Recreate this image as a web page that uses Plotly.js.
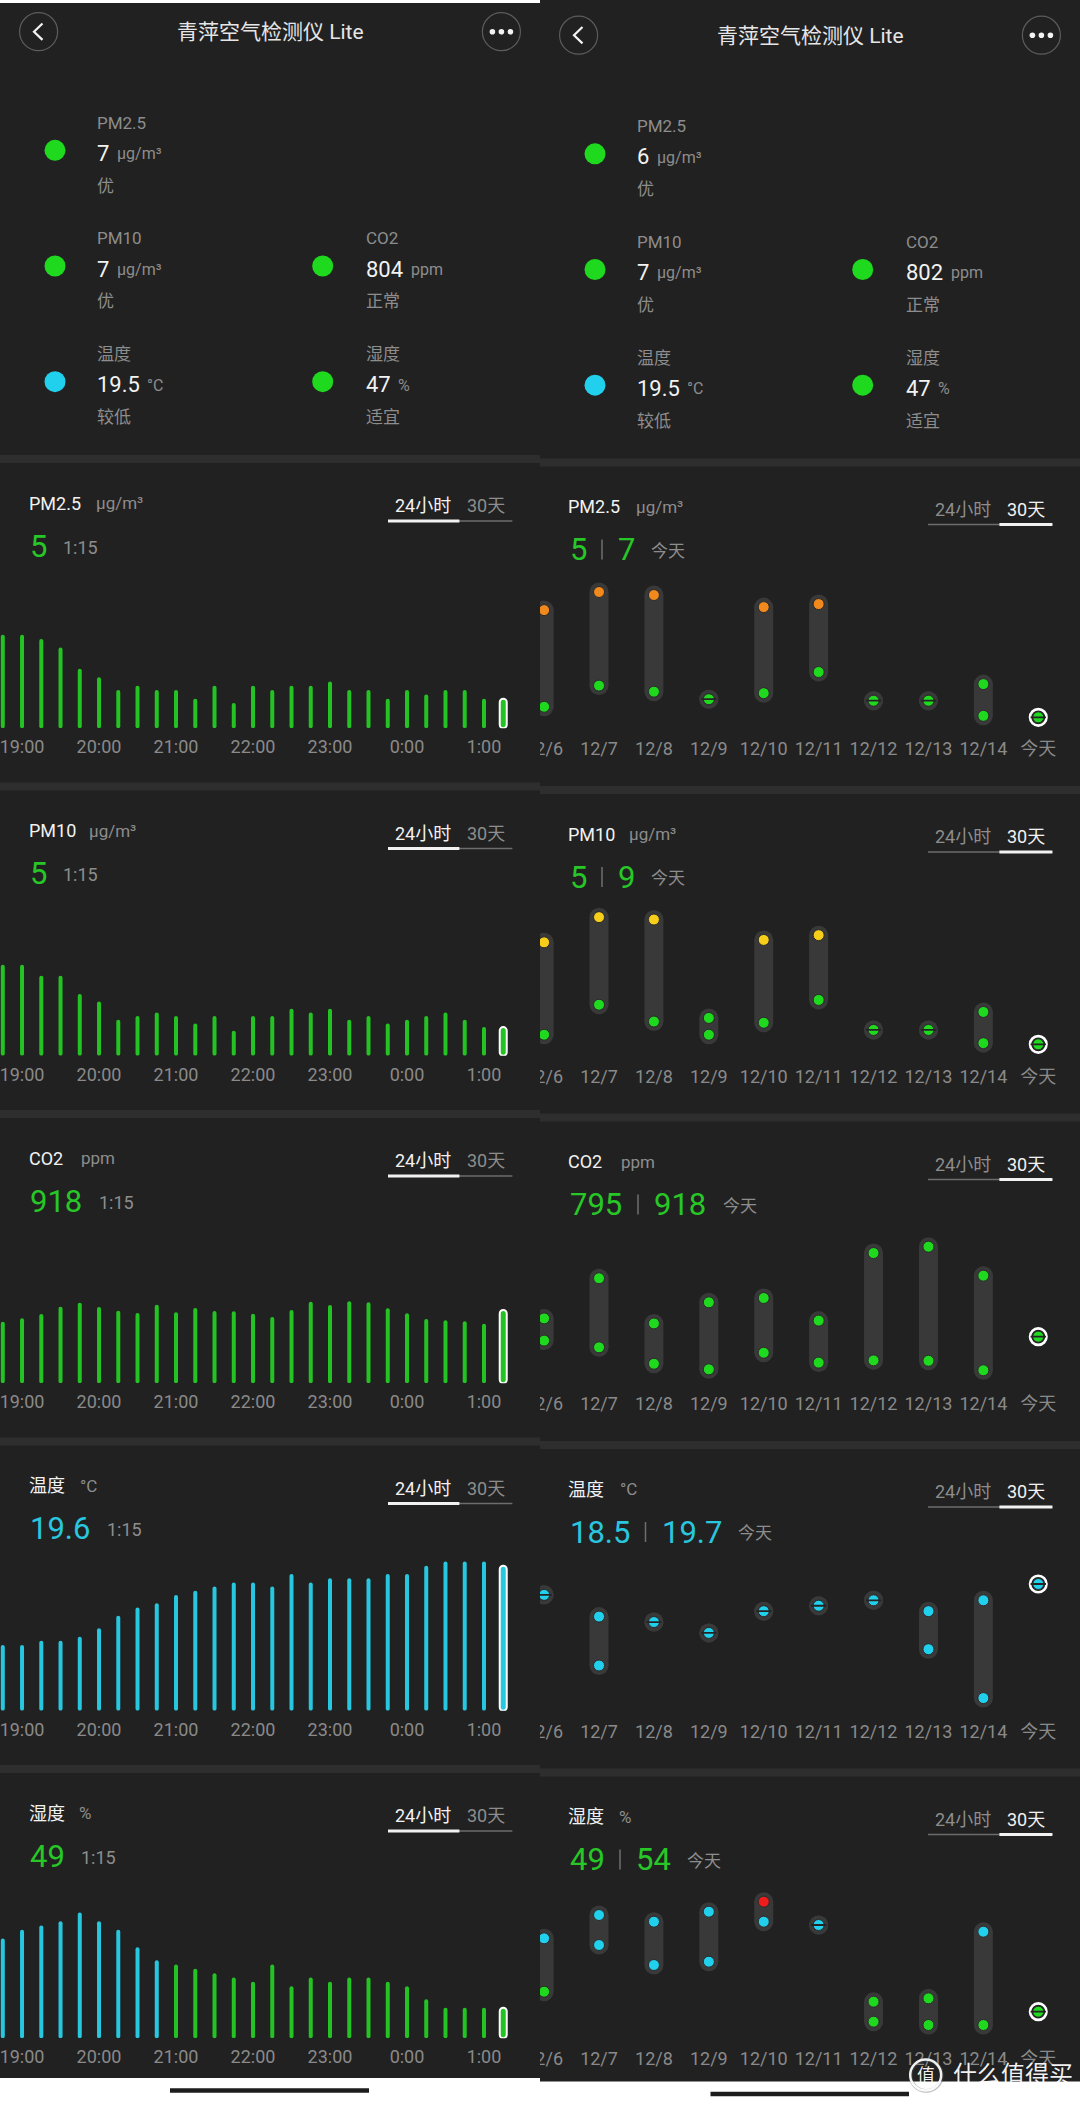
<!DOCTYPE html>
<html><head><meta charset="utf-8">
<script src="https://cdn.plot.ly/plotly-3.0.1.min.js"></script>
<style>html,body{margin:0;padding:0;background:#fff;}#chart{width:1080px;height:2104px;}</style>
</head><body><div id="chart"></div>
<script>
// ================= DATA =================
const appTitle = '青萍空气检测仪 Lite';
const metricNames = ['PM2.5', 'PM10', 'CO2', '温度', '湿度'];
const metricUnits = ['μg/m³', 'μg/m³', 'ppm', '°C', '%'];
const statusLeftValues = ['7', '7', '804', '19.5', '47'];
const statusRightValues = ['6', '7', '802', '19.5', '47'];
const statusLevels = ['优', '优', '正常', '较低', '适宜'];
const currentValues = ['5', '5', '918', '19.6', '49'];
const currentTime = '1:15';
const todayMinText = ['5', '5', '795', '18.5', '49'];
const todayMaxText = ['7', '9', '918', '19.7', '54'];
const tabLabels = ['24小时', '30天'];
const todayLabel = '今天';

// 24 h view (15-minute bars)
const times = ['18:45','19:00','19:15','19:30','19:45','20:00','20:15','20:30','20:45','21:00','21:15','21:30','21:45','22:00','22:15','22:30','22:45','23:00','23:15','23:30','23:45','0:00','0:15','0:30','0:45','1:00','1:15'];
const hourTicks = ['19:00','20:00','21:00','22:00','23:00','0:00','1:00'];
const pm25Hourly = [20,20,19,17,12,10,7,8,7,7,5,8,4,8,7,8,8,9,7,7,5,7,6,7,7,5,5];
const pm10Hourly = [22,22,19,19,14,12,7,8,9,8,6,8,4,8,8,10,9,10,7,8,6,7,8,9,7,5,5];
const co2Hourly = [813,843,882,948,984,945,912,891,966,897,936,909,906,885,855,918,993,963,996,987,933,888,837,825,816,795,918];
const tempHourly = [17.7,17.7,17.8,17.8,17.9,18.1,18.4,18.6,18.7,18.9,19.0,19.1,19.2,19.2,19.1,19.4,19.2,19.3,19.3,19.3,19.4,19.4,19.6,19.7,19.7,19.7,19.6];
const humHourly = [65,67,68,69,71,69,67,63,60,59,58,57,56,55,59,54,56,55,56,56,55,54,51,49,49,49,49];

// 30 day view (daily min / max)
const days = ['12/6','12/7','12/8','12/9','12/10','12/11','12/12','12/13','12/14'];
const pm25DayMin = [12,26,22,17,21,35,16,16,6];
const pm25DayMax = [76,88,86,17,78,80,16,16,27];
const pm10DayMin = [13,38,24,13,23,42,17,17,6];
const pm10DayMax = [90,111,109,27,92,96,17,17,32];
const co2DayMin = [897,861,773,743,832,779,791,789,738];
const co2DayMax = [1016,1231,989,1102,1125,1004,1366,1400,1245];
const tempDayMin = [19.5,18.2,19.0,18.8,19.2,19.3,19.4,18.5,17.6];
const tempDayMax = [19.5,19.1,19.0,18.8,19.2,19.3,19.4,19.2,19.4];
const humDayMin = [55,69,63,64,76,75,46,45,45];
const humDayMax = [71,78,76,79,82,75,52,53,73];
const todayPoint = [5, 5, 918, 19.7, 49];

// ================= STYLE / LAYOUT =================
const FONT = "Roboto, 'Noto Sans CJK SC', 'Noto Sans', sans-serif";
const W = 1080, H = 2104;
const fx = p => p / W, fy = p => 1 - p / H;
const BG = '#212121', BAND = '#2e2e2e', GRAY = '#8d8d8d', WHITE = '#f2f2f2';
const barPal = {g:'#24c324', c:'#27c7df', y:'#f0c419', o:'#ee8a1f', r:'#e8231e'};
const dotPal = {g:'#1fd91f', c:'#21d0ec', y:'#f7cf1b', o:'#f2891d', r:'#f01c1c'};
const txtPal = {g:'#27c727', c:'#29c6df'};
const levelFns = [
  v => v > 75 ? 'o' : v > 35 ? 'y' : 'g',
  v => v > 150 ? 'o' : v > 50 ? 'y' : 'g',
  v => v > 1500 ? 'y' : 'g',
  v => v < 20 ? 'c' : v <= 26 ? 'g' : 'o',
  v => v >= 80 ? 'r' : v >= 60 ? 'c' : v >= 40 ? 'g' : 'o'
];
const hourly = [pm25Hourly, pm10Hourly, co2Hourly, tempHourly, humHourly];
const dayMin = [pm25DayMin, pm10DayMin, co2DayMin, tempDayMin, humDayMin];
const dayMax = [pm25DayMax, pm10DayMax, co2DayMax, tempDayMax, humDayMax];
const metricTextColor = ['g','g','g','c','g'];
const statusNumeric = [7, 7, 804, 19.5, 47];

// axis calibration (pixels per unit and baseline value)
const leftScale = [{ppu:4.267, lo:-1.95}, {ppu:3.667, lo:-2.82}, {ppu:0.1111, lo:258}, {ppu:41.67, lo:16.12}, {ppu:4.333, lo:41.96}];
const rightScale = [{ref:5, refPx:717.33, ppu:1.51}, {ref:5, refPx:1044.33, ppu:1.2}, {ref:918, refPx:1336.67, ppu:0.18667}, {ref:19.7, refPx:1584, ppu:54.33}, {ref:49, refPx:2011.67, ppu:3.333}];
const unitX = [94.7, 87.8, 80.2, 78.5, 77.5];
const PITCH = 327.5;

const shapes = [], annotations = [], traces = [];
function rect(x0,y0,x1,y1,fill,layer){ shapes.push({type:'rect',xref:'paper',yref:'paper',x0:fx(x0),x1:fx(x1),y0:fy(y1),y1:fy(y0),fillcolor:fill,line:{width:0},layer:layer||'below'}); }
function circ(cx,cy,r,fill,lc,lw,layer){ shapes.push({type:'circle',xref:'paper',yref:'paper',x0:fx(cx-r),x1:fx(cx+r),y0:fy(cy+r),y1:fy(cy-r),fillcolor:fill||'rgba(0,0,0,0)',line:{color:lc||'rgba(0,0,0,0)',width:lw||0},layer:layer||'below'}); }
function seg(x0,y0,x1,y1,color,w,layer){ shapes.push({type:'line',xref:'paper',yref:'paper',x0:fx(x0),x1:fx(x1),y0:fy(y0),y1:fy(y1),line:{color:color,width:w},layer:layer||'below'}); }
function pathShape(pts,color,w){ const d = pts.map((p,i)=>(i?'L':'M')+fx(p[0])+','+fy(p[1])).join(' '); shapes.push({type:'path',xref:'paper',yref:'paper',path:d,line:{color:color,width:w},layer:'below'}); }
function txt(x,y,text,size,color,xanchor){ annotations.push({xref:'paper',yref:'paper',x:fx(x),y:fy(y),text:text,showarrow:false,xanchor:xanchor||'left',yanchor:'middle',font:{family:FONT,size:size,color:color},borderpad:0}); }
function estW(s,size,dig){ let w=0; for (const c of s) w += (c==='.'?0.25:dig)*size; return w; }

// backgrounds
rect(0,3,540,2078,BG);
rect(540,0,1080,2081.5,BG);
for (let i=0;i<5;i++){ rect(0,455+PITCH*i,540,463+PITCH*i,BAND); rect(540,458.5+PITCH*i,1080,466.5+PITCH*i,BAND); }
seg(170,2090.5,369,2090.5,'#1c1c1c',4.5);
seg(710.5,2094,909,2094,'#1c1c1c',4.5);

const sides = [{dx:0, dy:0, status:statusLeftValues, mode:0}, {dx:540, dy:3.5, status:statusRightValues, mode:1}];
const slots = [[0,0],[0,1],[1,1],[0,2],[1,2]];
sides.forEach(s => {
  const dx = s.dx, dy = s.dy;
  // header
  circ(dx+38.6, dy+31.7, 19, null, '#5c5c5c', 1.2);
  pathShape([[dx+42.5,dy+23.5],[dx+34,dy+31.7],[dx+42.5,dy+39.9]], '#f2f2f2', 2.2);
  circ(dx+501.4, dy+31.7, 19, null, '#5c5c5c', 1.2);
  [492.4,501.4,510.4].forEach(x => circ(dx+x, dy+31.7, 2.8, '#f2f2f2'));
  txt(dx+270, dy+32, appTitle, 21, '#e6e6e6', 'center');
  // status block
  slots.forEach((sl, k) => {
    const col = sl[0], row = sl[1];
    const ly = dy + 122.7 + 115.7*row;
    const tx = dx + [96.4, 365][col];
    circ(dx + [55, 322.7][col], ly + 27.6, 10.5, dotPal[levelFns[k](statusNumeric[k])]);
    txt(tx, ly, metricNames[k], 17, GRAY);
    txt(tx, ly + 30.6, s.status[k], 22, WHITE);
    txt(tx + estW(s.status[k],22,0.562) + 7.5, ly + 31, metricUnits[k], 16, GRAY);
    txt(tx, ly + 63, statusLevels[k], 17, GRAY);
  });
  // cards
  for (let i=0;i<5;i++){
    const ty = 503.3 + PITCH*i + dy;
    const vy = 546 + PITCH*i + dy;
    const mc = txtPal[metricTextColor[i]];
    txt(dx+27.5, ty, metricNames[i], 18, WHITE);
    txt(dx+unitX[i], ty, metricUnits[i], 17, GRAY);
    txt(dx+423, ty+2.4, tabLabels[0], 18, s.mode===0?WHITE:GRAY, 'center');
    txt(dx+486, ty+2.4, tabLabels[1], 18, s.mode===1?WHITE:GRAY, 'center');
    seg(dx+388, ty+17.7, dx+512.4, ty+17.7, '#6d6d6d', 1.5);
    if (s.mode===0) seg(dx+388, ty+17.7, dx+459.4, ty+17.7, WHITE, 3);
    else seg(dx+459.4, ty+17.7, dx+512.4, ty+17.7, WHITE, 3);
    if (s.mode===0){
      txt(dx+29, vy, currentValues[i], 31, mc);
      txt(dx+29+estW(currentValues[i],30,0.6)+15, vy+1, currentTime, 18, GRAY);
    } else {
      const dvx = 29 + estW(todayMinText[i],30,0.6) + 15;
      const mx = dvx + 15;
      txt(dx+29, vy, todayMinText[i], 31, mc);
      seg(dx+dvx, vy-10, dx+dvx, vy+10, '#6f6f6f', 1.5);
      txt(dx+mx, vy, todayMaxText[i], 31, mc);
      txt(dx+mx+estW(todayMaxText[i],30,0.6)+15, vy+1, todayLabel, 17, GRAY);
    }
  }
});

// ================= CHARTS =================
const layout = {width:W, height:H, margin:{l:0,r:0,t:0,b:0}, paper_bgcolor:'#ffffff', plot_bgcolor:'rgba(0,0,0,0)',
  showlegend:false, barmode:'overlay', font:{family:FONT}, shapes:shapes, annotations:annotations};
const tickFont = {family:FONT, size:18, color:'#8a8a8a'};
const STANDOFF = 6;

for (let i=0;i<5;i++){
  // left 24h bar chart
  const n = i+1, sfx = n===1?'':String(n);
  const B = 728.3 + PITCH*i, T = B - 200;
  const sc = leftScale[i];
  const hi = sc.lo + (B - T)/sc.ppu;
  layout['xaxis'+sfx] = {domain:[0, fx(540)], type:'category', categoryorder:'array', categoryarray:times,
    range:[-0.145, 27.91], tickmode:'array', tickvals:hourTicks, ticktext:hourTicks, showgrid:false, zeroline:false,
    showline:false, ticks:'', tickfont:tickFont, ticklabelstandoff:STANDOFF, fixedrange:true, anchor:'y'+sfx};
  layout['yaxis'+sfx] = {domain:[fy(B), fy(T)], range:[sc.lo, hi], visible:false, fixedrange:true, anchor:'x'+sfx};
  const vals = hourly[i];
  const body = vals.slice(0, -1), last = vals[vals.length-1];
  traces.push({type:'bar', x:times.slice(0,-1), y:body.map(v => v - sc.lo), base:sc.lo, width:0.208,
    marker:{color:body.map(v => barPal[levelFns[i](v)]), cornerradius:2, line:{width:0}},
    xaxis:'x'+sfx, yaxis:'y'+sfx, hoverinfo:'skip'});
  traces.push({type:'bar', x:[times[times.length-1]], y:[last - sc.lo], base:sc.lo, width:0.364,
    marker:{color:barPal[levelFns[i](last)], cornerradius:3.5, line:{color:'#ffffff', width:2}},
    xaxis:'x'+sfx, yaxis:'y'+sfx, hoverinfo:'skip'});

  // right 30 day range chart
  const m = i+6, rs = String(m);
  const RB = 730.3 + PITCH*i, RT = RB - 200;
  const r = rightScale[i];
  const cats = days.concat([todayLabel]);
  layout['xaxis'+rs] = {domain:[fx(540), 1], type:'category', categoryorder:'array', categoryarray:cats,
    range:[-0.075, 9.76], tickmode:'array', tickvals:cats, ticktext:cats, showgrid:false, zeroline:false,
    showline:false, ticks:'', tickfont:tickFont, ticklabelstandoff:STANDOFF, fixedrange:true, anchor:'y'+rs};
  layout['yaxis'+rs] = {domain:[fy(RB), fy(RT)], range:[r.ref - (RB - r.refPx)/r.ppu, r.ref + (r.refPx - RT)/r.ppu],
    visible:false, fixedrange:true, anchor:'x'+rs};
  const mn = dayMin[i], mx = dayMax[i], tv = todayPoint[i];
  traces.push({type:'bar', x:days, y:mx.map((v,k) => v - mn[k]), base:mn, width:0.346,
    marker:{color:'#393939', line:{width:0}}, xaxis:'x'+rs, yaxis:'y'+rs, hoverinfo:'skip'});
  traces.push({type:'scatter', mode:'markers', x:days.concat(days), y:mn.concat(mx),
    marker:{size:19, color:'#393939', line:{width:0}}, xaxis:'x'+rs, yaxis:'y'+rs, hoverinfo:'skip', cliponaxis:true});
  traces.push({type:'scatter', mode:'markers', x:[todayLabel], y:[tv],
    marker:{size:16.5, color:BG, line:{color:'#ffffff', width:2.6}}, xaxis:'x'+rs, yaxis:'y'+rs, hoverinfo:'skip', cliponaxis:true});
  const dx2 = days.concat(days, [todayLabel]), dy2 = mn.concat(mx, [tv]);
  traces.push({type:'scatter', mode:'markers', x:dx2, y:dy2,
    marker:{size:11, color:dy2.map(v => dotPal[levelFns[i](v)]), line:{color:'#2a2a2a', width:1}},
    xaxis:'x'+rs, yaxis:'y'+rs, hoverinfo:'skip', cliponaxis:true});
  const eqX = [], eqY = [];
  days.forEach((d,k) => { if (mn[k] === mx[k]) { eqX.push(d); eqY.push(mn[k]); } });
  eqX.push(todayLabel); eqY.push(tv);
  traces.push({type:'scatter', mode:'markers', x:eqX, y:eqY,
    marker:{symbol:'line-ew', size:11, color:'#242424', line:{color:'#242424', width:1.8}},
    xaxis:'x'+rs, yaxis:'y'+rs, hoverinfo:'skip', cliponaxis:true});
  // cover the spill-over of the cut-off first day label
  rect(516, 733 + PITCH*i, 540, 759 + PITCH*i, BG, 'above');
}

// watermark
circ(926.2, 2075.5, 15.5, 'rgba(0,0,0,0)', 'rgba(90,90,90,0.35)', 4, 'above');
circ(925.7, 2075, 15.5, 'rgba(0,0,0,0)', 'rgba(255,255,255,0.92)', 2.5, 'above');
txt(925.7, 2075, '值', 18, 'rgba(255,255,255,0.95)', 'center');
txt(951.5, 2075, '什么值得买', 24, 'rgba(255,255,255,0.95)');

Plotly.newPlot('chart', traces, layout, {staticPlot:true, displayModeBar:false});
</script>
</body></html>
